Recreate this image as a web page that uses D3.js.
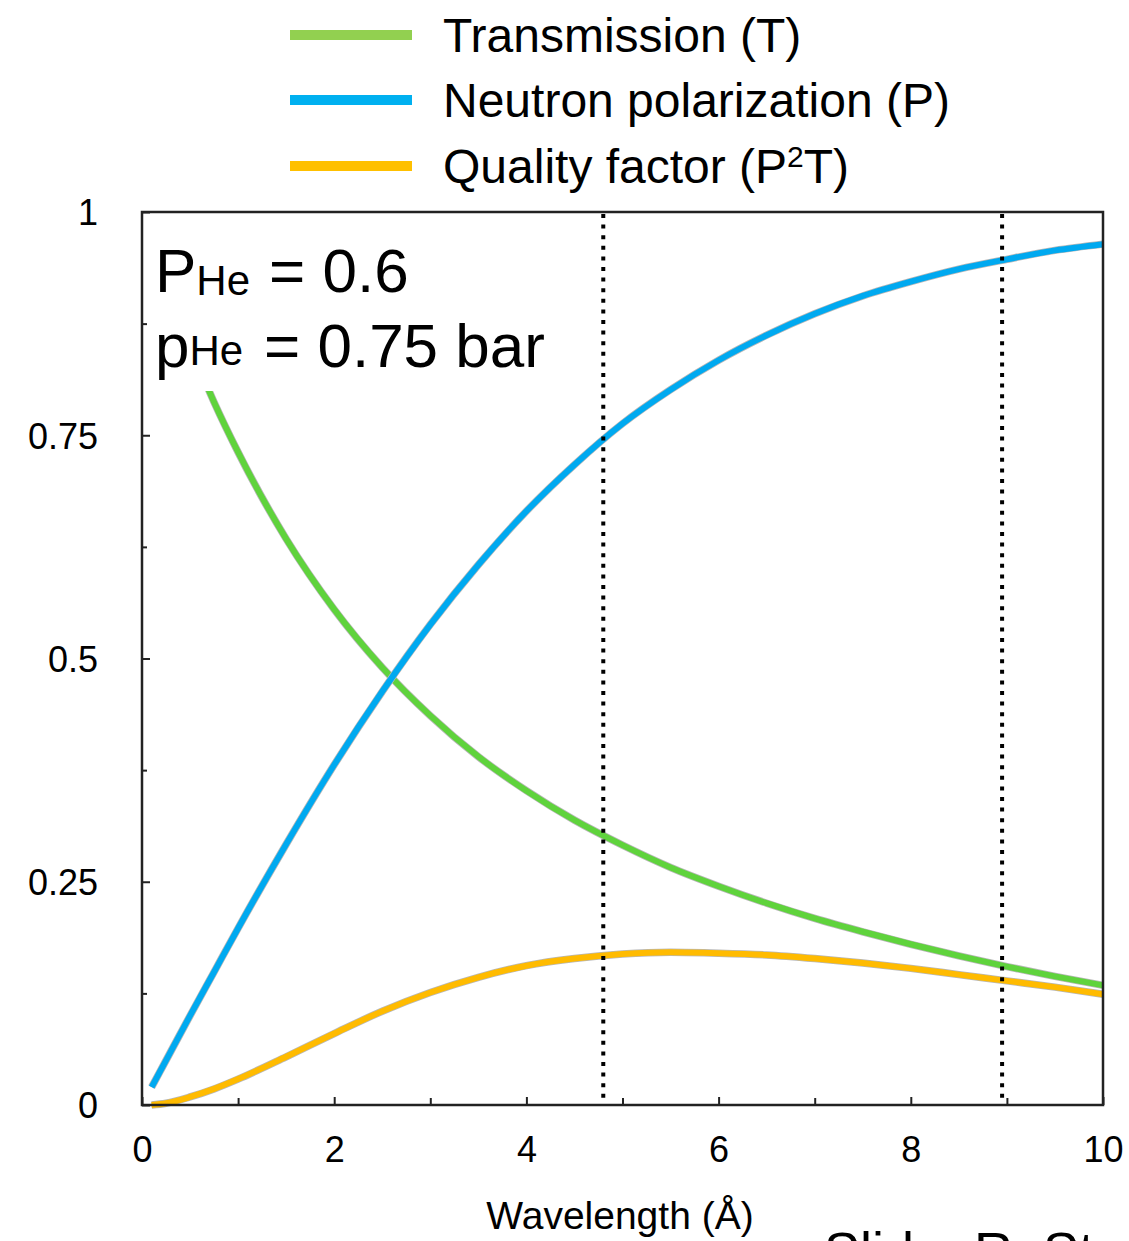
<!DOCTYPE html>
<html>
<head>
<meta charset="utf-8">
<script src="https://cdn.jsdelivr.net/npm/d3@7"></script>
<style>
  html, body { margin: 0; padding: 0; background: #fff; }
  svg { display: block; font-family: "Liberation Sans", Arial, Helvetica, sans-serif; }
</style>
</head>
<body>
<svg id="chart" width="1129" height="1241"></svg>
<script>
// Wavelength grid (Å)
const wavelength = [0.1, 0.25, 0.5, 0.75, 1, 1.5, 2, 2.5, 3, 3.5, 4, 4.5, 5, 5.5, 6, 6.5, 7, 7.5, 8, 8.5, 9, 9.5, 10];
// Neutron transmission T
const transmission = [0.967, 0.921, 0.850, 0.787, 0.731, 0.634, 0.555, 0.490, 0.436, 0.390, 0.352, 0.319, 0.291, 0.266, 0.245, 0.226, 0.209, 0.194, 0.180, 0.167, 0.155, 0.144, 0.134];
// Neutron polarization P
const polarization = [0.020, 0.050, 0.100, 0.149, 0.198, 0.292, 0.381, 0.463, 0.538, 0.605, 0.665, 0.717, 0.763, 0.801, 0.834, 0.862, 0.886, 0.906, 0.922, 0.936, 0.947, 0.957, 0.964];
// Quality factor P^2 T
const quality = [0.000, 0.002, 0.009, 0.018, 0.029, 0.054, 0.080, 0.105, 0.126, 0.143, 0.156, 0.164, 0.169, 0.171, 0.170, 0.168, 0.164, 0.159, 0.153, 0.146, 0.139, 0.132, 0.124];

// Marked wavelengths (dotted verticals)
const markers = [4.8, 8.95];

const xTickLabels = [0, 2, 4, 6, 8, 10];
const xMinorTicks = [1, 3, 5, 7, 9];
const yTickValues = [0, 0.25, 0.5, 0.75, 1];
const yTickLabels = ["0", "0.25", "0.5", "0.75", "1"];
const yMinorTicks = [0.125, 0.375, 0.625, 0.875];

const seriesNames = ["Transmission (T)", "Neutron polarization (P)", "Quality factor (P²T)"];

const svg = d3.select("#chart");
const plotLeft = 142, plotRight = 1103, plotTop = 212, plotBottom = 1105;

const x = d3.scaleLinear().domain([0, 10]).range([plotLeft, plotRight]);
const y = d3.scaleLinear().domain([0, 1]).range([plotBottom, plotTop]);

const curves = [
  { values: transmission, color: "#5fd33c" },
  { values: polarization, color: "#00a9f0" },
  { values: quality, color: "#ffbb00" }
];

const line = d3.line().curve(d3.curveMonotoneX);

const plot = svg.append("g");
curves.forEach(c => {
  const pts = wavelength.map((w, i) => [x(w), y(c.values[i])]);
  plot.append("path").attr("d", line(pts))
    .attr("fill", "none").attr("stroke", "#b8b8b8").attr("stroke-width", 7.5);
  plot.append("path").attr("d", line(pts))
    .attr("fill", "none").attr("stroke", c.color).attr("stroke-width", 6);
});

// Annotation box (white background over the curves)
svg.append("rect").attr("x", plotLeft + 2).attr("y", plotTop + 2)
  .attr("width", 430).attr("height", 177).attr("fill", "#fff");

// Dotted vertical markers
markers.forEach(m => {
  svg.append("line")
    .attr("x1", x(m)).attr("x2", x(m))
    .attr("y1", plotTop + 2).attr("y2", plotBottom)
    .attr("stroke", "#000").attr("stroke-width", 4)
    .attr("stroke-dasharray", "4 6.6");
});

// Frame
svg.append("rect").attr("x", plotLeft).attr("y", plotTop)
  .attr("width", plotRight - plotLeft).attr("height", plotBottom - plotTop)
  .attr("fill", "none").attr("stroke", "#222").attr("stroke-width", 2.5);

// Axes with inward ticks
const xAxis = d3.axisBottom(x).tickValues(xTickLabels).tickSize(-8).tickPadding(31)
  .tickFormat(d3.format("d"));
const gx = svg.append("g").attr("transform", `translate(0,${plotBottom})`).call(xAxis);
const gxm = svg.append("g").attr("transform", `translate(0,${plotBottom})`)
  .call(d3.axisBottom(x).tickValues(xMinorTicks).tickSize(-7).tickFormat(""));

const yAxis = d3.axisLeft(y).tickValues(yTickValues).tickSize(-8).tickPadding(44)
  .tickFormat((d, i) => yTickLabels[i]);
const gy = svg.append("g").attr("transform", `translate(${plotLeft},0)`).call(yAxis);
const gym = svg.append("g").attr("transform", `translate(${plotLeft},0)`)
  .call(d3.axisLeft(y).tickValues(yMinorTicks).tickSize(-5).tickFormat(""));

[gx, gxm, gy, gym].forEach(g => {
  g.select(".domain").remove();
  g.selectAll(".tick line").attr("stroke", "#222").attr("stroke-width", 2);
  g.selectAll("text").attr("fill", "#000").attr("font-size", 36)
    .attr("font-family", '"Liberation Sans", Arial, sans-serif');
});
gx.selectAll("text").attr("dy", "0.71em");
gy.selectAll("text").attr("text-anchor", "end").attr("dy", "0.36em");

// Axis title
svg.append("text").attr("x", 620).attr("y", 1229)
  .attr("text-anchor", "middle").attr("font-size", 39)
  .text("Wavelength (Å)");

// Annotation text
const ann1 = svg.append("text").attr("x", 155).attr("y", 292).attr("font-size", 62);
ann1.append("tspan").text("P");
ann1.append("tspan").attr("font-size", 42).attr("dy", 3).text("He");
ann1.append("tspan").attr("x", 269).attr("dy", -3).text("= 0.6");

const ann2 = svg.append("text").attr("x", 155).attr("y", 367).attr("font-size", 62);
ann2.append("tspan").text("p");
ann2.append("tspan").attr("font-size", 42).attr("dy", -2).text("He");
ann2.append("tspan").attr("x", 264).attr("dy", 2).text("= 0.75 bar");

// Legend
const legendColors = ["#92d050", "#00b0f0", "#ffc000"];
const legendBase = [52, 117, 183];
seriesNames.forEach((name, i) => {
  svg.append("rect").attr("x", 290).attr("y", legendBase[i] - 22)
    .attr("width", 122).attr("height", 10).attr("fill", legendColors[i]);
  const t = svg.append("text").attr("x", 443).attr("y", legendBase[i]).attr("font-size", 48);
  if (name.includes("²")) {
    t.append("tspan").text("Quality factor (P");
    t.append("tspan").attr("font-size", 30).attr("dy", -16).text("2");
    t.append("tspan").attr("dy", 16).text("T)");
  } else {
    t.text(name);
  }
});

// Credit line along the bottom edge
svg.append("text").attr("x", 824).attr("y", 1270).attr("font-size", 54)
  .text("Slide: R. St");
</script>
</body>
</html>
